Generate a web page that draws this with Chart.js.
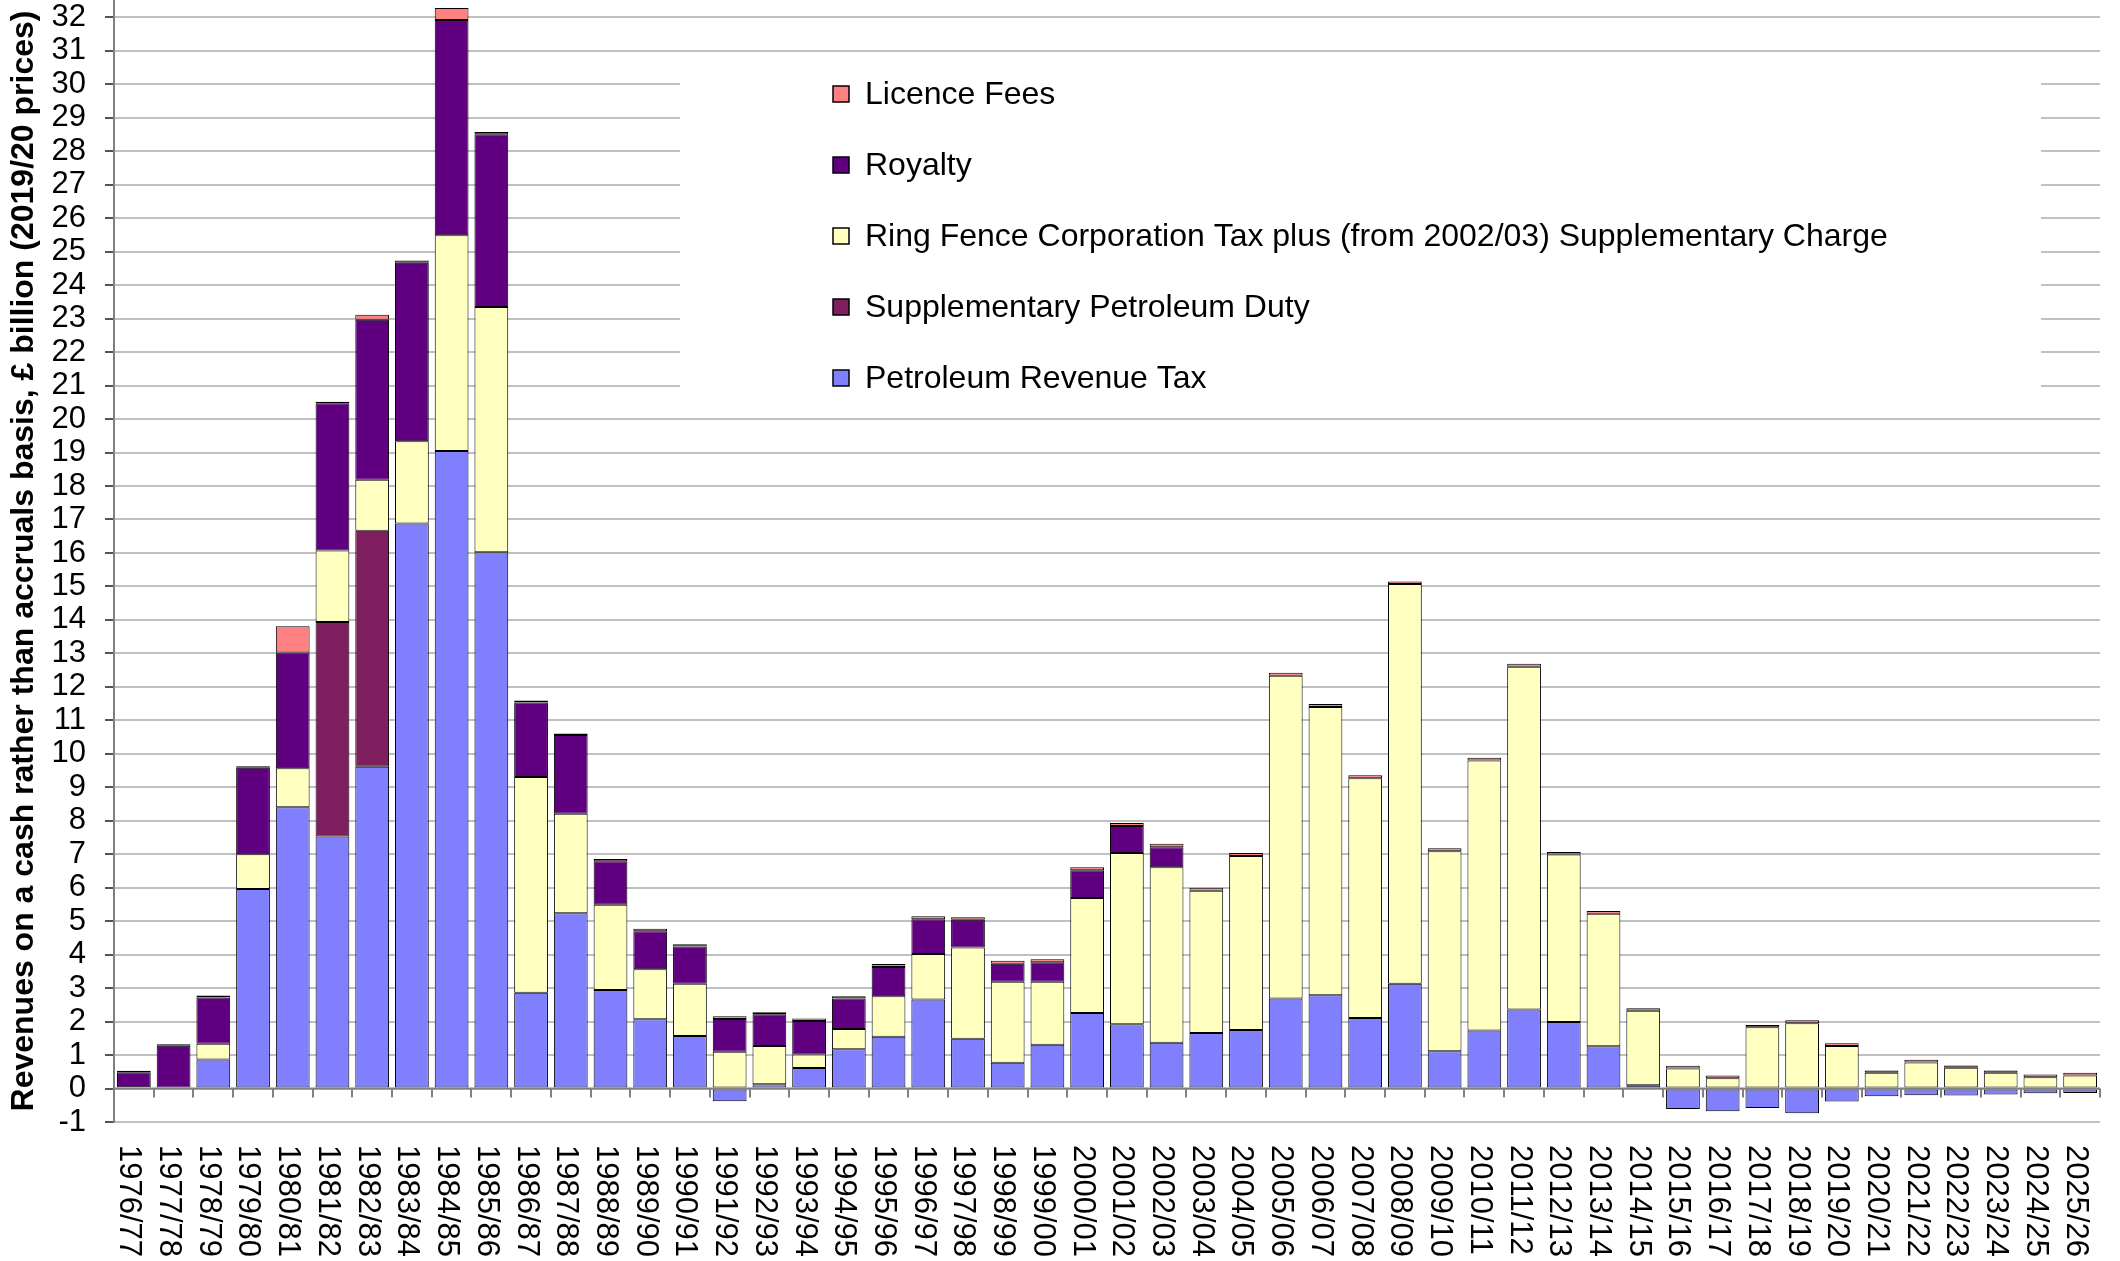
<!DOCTYPE html>
<html>
<head>
<meta charset="utf-8">
<title>North Sea oil and gas revenues</title>
<script src="https://cdn.jsdelivr.net/npm/chart.js@4.4.0/dist/chart.umd.min.js"></script>
<style>
  html, body { margin: 0; padding: 0; background: #fff; }
  #wrap { width: 2120px; height: 1261px; }
</style>
</head>
<body>
<div id="wrap"><canvas id="chart" width="2120" height="1261"></canvas></div>
<script>
// Financial years on the x axis
const years = [
  '1976/77', '1977/78', '1978/79', '1979/80', '1980/81', '1981/82', '1982/83', '1983/84', '1984/85', '1985/86',
  '1986/87', '1987/88', '1988/89', '1989/90', '1990/91', '1991/92', '1992/93', '1993/94', '1994/95', '1995/96',
  '1996/97', '1997/98', '1998/99', '1999/00', '2000/01', '2001/02', '2002/03', '2003/04', '2004/05', '2005/06',
  '2006/07', '2007/08', '2008/09', '2009/10', '2010/11', '2011/12', '2012/13', '2013/14', '2014/15', '2015/16',
  '2016/17', '2017/18', '2018/19', '2019/20', '2020/21', '2021/22', '2022/23', '2023/24', '2024/25', '2025/26'
];

// £ billion, 2019/20 prices
const petroleumRevenueTax = [
  0, 0, 0.87, 5.96, 8.40, 7.53, 9.61, 16.88, 19.05, 16.02,
  2.86, 5.24, 2.94, 2.07, 1.57, -0.38, 0.13, 0.61, 1.17, 1.55,
  2.66, 1.49, 0.77, 1.31, 2.26, 1.92, 1.37, 1.66, 1.75, 2.69,
  2.79, 2.11, 3.13, 1.11, 1.73, 2.36, 1.99, 1.26, 0.10, -0.61,
  -0.68, -0.58, -0.74, -0.39, -0.23, -0.20, -0.21, -0.18, -0.14, -0.13
];
const supplementaryPetroleumDuty = [
  0, 0, 0, 0, 0, 6.41, 7.05, 0, 0, 0,
  0, 0, 0, 0, 0, 0, 0, 0, 0, 0,
  0, 0, 0, 0, 0, 0, 0, 0, 0, 0,
  0, 0, 0, 0, 0, 0, 0, 0, 0, 0,
  0, 0, 0, 0, 0, 0, 0, 0, 0, 0
];
const ringFenceTax = [
  0.04, 0.03, 0.47, 1.04, 1.17, 2.13, 1.53, 2.46, 6.44, 7.33,
  6.45, 2.97, 2.55, 1.49, 1.56, 1.10, 1.14, 0.41, 0.61, 1.21,
  1.36, 2.72, 2.42, 1.88, 3.43, 5.12, 5.24, 4.25, 5.20, 9.64,
  8.61, 7.16, 11.94, 5.98, 8.07, 10.24, 5.00, 3.96, 2.22, 0.60,
  0.31, 1.83, 1.95, 1.27, 0.47, 0.78, 0.62, 0.47, 0.34, 0.39
];
const royalty = [
  0.45, 1.25, 1.38, 2.58, 3.46, 4.40, 4.78, 5.33, 6.43, 5.16,
  2.22, 2.35, 1.30, 1.14, 1.11, 0.98, 0.95, 1.00, 0.91, 0.87,
  1.04, 0.83, 0.54, 0.58, 0.83, 0.80, 0.60, 0, 0, 0,
  0, 0, 0, 0, 0, 0, 0, 0, 0, 0,
  0, 0, 0, 0, 0, 0, 0, 0, 0, 0
];
const licenceFees = [
  0.04, 0.04, 0.06, 0.05, 0.78, 0.05, 0.15, 0.07, 0.36, 0.07,
  0.06, 0.05, 0.07, 0.07, 0.07, 0.08, 0.06, 0.07, 0.07, 0.09,
  0.09, 0.08, 0.09, 0.09, 0.09, 0.09, 0.10, 0.09, 0.09, 0.09,
  0.09, 0.09, 0.08, 0.09, 0.08, 0.09, 0.08, 0.08, 0.08, 0.08,
  0.08, 0.07, 0.09, 0.08, 0.07, 0.08, 0.07, 0.07, 0.08, 0.08
];

const seriesNames = [
  'Petroleum Revenue Tax',
  'Supplementary Petroleum Duty',
  'Ring Fence Corporation Tax plus (from 2002/03) Supplementary Charge',
  'Royalty',
  'Licence Fees'
];
const seriesColors = ['#8080ff', '#801f5f', '#ffffc0', '#600080', '#ff8080'];
const seriesValues = [petroleumRevenueTax, supplementaryPetroleumDuty, ringFenceTax, royalty, licenceFees];

const FONT = "'Liberation Sans', Arial, sans-serif";

// legend sits in a white box inside the plot, drawn over the grid
const boxLegend = {
  id: 'boxLegend',
  beforeDatasetsDraw(chart) {
    const ctx = chart.ctx;
    ctx.save();
    ctx.fillStyle = '#fff';
    ctx.fillRect(680, 62, 1361, 342);
    ctx.font = '32px ' + FONT;
    ctx.textBaseline = 'middle';
    const items = chart.data.datasets.slice().reverse();
    items.forEach((ds, i) => {
      const y = 94 + i * 71;
      ctx.fillStyle = ds.backgroundColor;
      ctx.fillRect(833, y - 8, 16, 16);
      ctx.strokeStyle = '#000';
      ctx.lineWidth = 1.5;
      ctx.strokeRect(833, y - 8, 16, 16);
      ctx.fillStyle = '#000';
      ctx.fillText(ds.label, 865, y + 1);
    });
    ctx.restore();
  }
};

// small tick marks on the zero line and vertical category labels reading downwards
const xAxisDecor = {
  id: 'xAxisDecor',
  afterDatasetsDraw(chart) {
    const ctx = chart.ctx;
    const x = chart.scales.x;
    const y = chart.scales.y;
    const zero = y.getPixelForValue(0);
    const step = x.width / years.length;
    ctx.save();
    ctx.strokeStyle = '#808080';
    ctx.lineWidth = 2;
    ctx.beginPath();
    ctx.moveTo(x.left, zero);
    ctx.lineTo(x.right, zero);
    for (let i = 0; i <= years.length; i++) {
      const px = Math.round(x.left + i * step);
      ctx.moveTo(px, zero);
      ctx.lineTo(px, zero + 9);
    }
    ctx.stroke();
    ctx.restore();
  },
  afterDraw(chart) {
    const ctx = chart.ctx;
    const x = chart.scales.x;
    const top = chart.chartArea.bottom + 23;
    ctx.save();
    ctx.font = '31px ' + FONT;
    ctx.fillStyle = '#000';
    ctx.textAlign = 'left';
    ctx.textBaseline = 'middle';
    years.forEach((label, i) => {
      ctx.save();
      ctx.translate(x.getPixelForValue(i) - 5, top);
      ctx.rotate(Math.PI / 2);
      ctx.fillText(label, 0, 0);
      ctx.restore();
    });
    ctx.restore();
  }
};

new Chart(document.getElementById('chart'), {
  type: 'bar',
  data: {
    labels: years,
    datasets: seriesValues.map((vals, i) => ({
      label: seriesNames[i],
      data: vals,
      backgroundColor: seriesColors[i],
      borderColor: '#000',
      borderWidth: 1,
      borderSkipped: false,
      barPercentage: 0.85,
      categoryPercentage: 1
    }))
  },
  options: {
    responsive: false,
    animation: false,
    devicePixelRatio: 1,
    layout: { padding: { top: 0, right: 20, bottom: 139, left: 0 } },
    plugins: {
      legend: { display: false },
      tooltip: { enabled: false }
    },
    scales: {
      x: {
        stacked: true,
        display: false
      },
      y: {
        stacked: true,
        min: -1,
        max: 32.52,
        afterFit(scale) {
          scale.width = 114;
          scale.paddingTop = 0;
          scale.paddingBottom = 0;
        },
        ticks: {
          stepSize: 1,
          includeBounds: false,
          autoSkip: false,
          color: '#000',
          padding: 19,
          font: { family: FONT, size: 31 }
        },
        grid: {
          color: '#c0c0c0',
          lineWidth: 2,
          tickLength: 9,
          tickColor: '#555'
        },
        border: { color: '#808080', width: 2 },
        title: {
          display: true,
          text: 'Revenues on a cash rather than accruals basis, £ billion (2019/20 prices)',
          color: '#000',
          padding: { top: 5, bottom: 0 },
          font: { family: FONT, size: 32, weight: 'bold' }
        }
      }
    }
  },
  plugins: [boxLegend, xAxisDecor]
});
</script>
</body>
</html>
